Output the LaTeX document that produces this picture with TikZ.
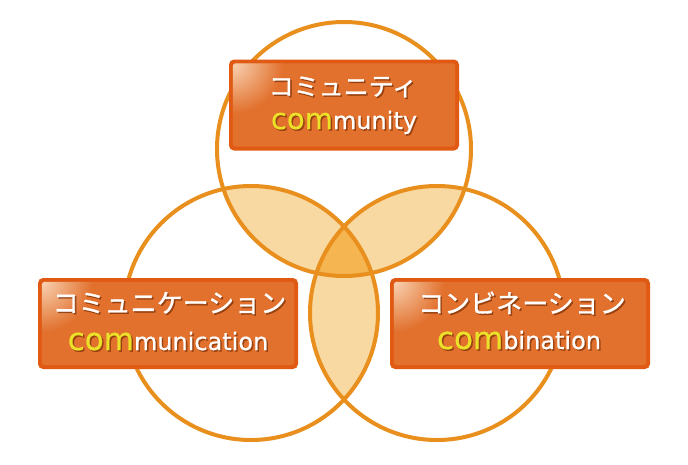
\documentclass[tikz,border=0pt]{standalone}
\usepackage{fontspec}
\usetikzlibrary{calc}
\newfontfamily\jpfont[FakeBold=1.2]{Noto Sans CJK JP}
\newfontfamily\latfont[FakeBold=0.6]{DejaVu Sans}
\definecolor{ring}{RGB}{232,143,30}
\definecolor{lens}{RGB}{249,217,162}
\definecolor{core}{RGB}{245,181,81}
\definecolor{boxedge}{RGB}{224,90,20}
\definecolor{boxfill}{RGB}{226,113,46}
\definecolor{gloss}{RGB}{248,210,178}
\definecolor{comyellow}{RGB}{235,225,40}
\definecolor{txtshadow}{RGB}{110,40,0}
\tikzset{
  jpstyle/.style={inner sep=0pt, text=white, font=\jpfont},
  latstyle/.style={inner sep=0pt, anchor=base, text=white, font=\latfont},
  boxstyle/.style={fill=boxedge, rounded corners=5pt, minimum height=91pt, inner sep=0pt},
  ringline/.style={draw=ring, line width=4pt}
}
\newcommand\jplabel[4]{%
  \node[jpstyle, text=txtshadow, text opacity=0.6] at ($#2+(1.5,1.5)$) {\fontsize{#3}{#3}\selectfont #4};
  \node[jpstyle] (#1) at #2 {\fontsize{#3}{#3}\selectfont #4};}
\newcommand\latlabel[5]{%
  \node[latstyle, text=txtshadow, text opacity=0.6] at ($#2+(1.5,1.5)$) {\fontsize{#3}{#3}\selectfont com\fontsize{#4}{#4}\selectfont #5};
  \node[latstyle] (#1) at #2 {{\color{comyellow}\fontsize{#3}{#3}\selectfont com}\fontsize{#4}{#4}\selectfont #5};}
\newcommand\glossbox[3]{%
  \node[boxstyle, minimum width=#3] (#1) at #2 {};
  \fill[boxfill, rounded corners=3pt] ($(#1.south west)+(4,-4)$) rectangle ($(#1.north east)+(-4,4)$);
  \begin{scope}
    \clip[rounded corners=3pt] ($(#1.south west)+(4,-4)$) rectangle ($(#1.north east)+(-4,4)$);
    \shade[inner color=gloss, outer color=boxfill] ($(#1.north west)+(4,4)$) circle (50);
  \end{scope}}
\begin{document}
\begin{tikzpicture}[x=1pt, y=-1pt]
\useasboundingbox (0,0) rectangle (688,464);
\coordinate (ct) at (344,149);
\coordinate (cl) at (251,313);
\coordinate (cr) at (437,313);
\begin{scope}
  \clip (ct) circle (127);
  \fill[lens] (cl) circle (127);
  \fill[lens] (cr) circle (127);
\end{scope}
\begin{scope}
  \clip (cl) circle (127);
  \fill[lens] (cr) circle (127);
\end{scope}
\begin{scope}
  \clip (ct) circle (127);
  \clip (cl) circle (127);
  \fill[core] (cr) circle (127);
\end{scope}
\draw[ringline] (ct) circle (127);
\draw[ringline] (cl) circle (127);
\draw[ringline] (cr) circle (127);
\glossbox{topbox}{(344,105)}{230pt}
\glossbox{leftbox}{(168,323.5)}{260pt}
\glossbox{rightbox}{(520,323.5)}{260pt}
\jplabel{topjp}{(343,87)}{25}{コミュニティ}
\latlabel{toplat}{(344,129)}{29}{24}{munity}
\jplabel{leftjp}{(169.5,303)}{26}{コミュニケーション}
\latlabel{leftlat}{(168,350)}{31}{24}{munication}
\jplabel{rightjp}{(522,303)}{26}{コンビネーション}
\latlabel{rightlat}{(519,349)}{31}{24}{bination}
\end{tikzpicture}
\end{document}
